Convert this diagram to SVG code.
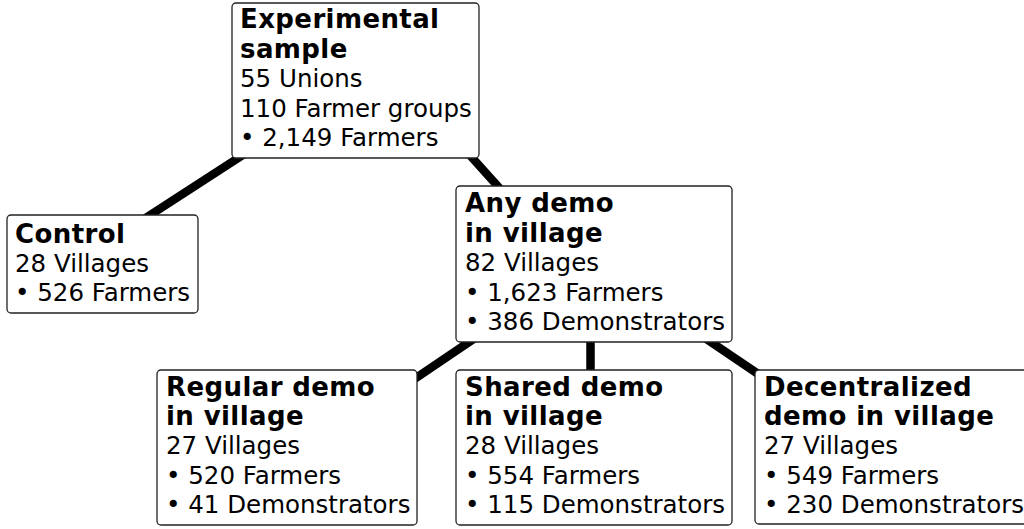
<svg xmlns="http://www.w3.org/2000/svg" width="1024" height="529" viewBox="0 0 1024 529">
  <style>
    .box { fill: #ffffff; stroke: #222222; stroke-width: 1.3; }
    .edge { stroke: #000000; stroke-width: 8.5; stroke-linecap: butt; fill: none; }
    text { font-family: "DejaVu Sans", "Liberation Sans", sans-serif; font-size: 24.5px; fill: #000000; }
    .title { font-weight: bold; font-size: 26px; letter-spacing: 0.4px; }
  </style>
  <rect width="1024" height="529" fill="#ffffff"/>

  <!-- tree edges, drawn beneath the boxes -->
  <g id="connectors">
    <line class="edge" x1="249" y1="151" x2="141" y2="221"/>
    <line class="edge" x1="467" y1="152" x2="503" y2="192"/>
    <line class="edge" x1="478" y1="336" x2="410" y2="382"/>
    <line class="edge" x1="590.5" y1="336" x2="590.5" y2="376"/>
    <line class="edge" x1="702" y1="336" x2="764" y2="378"/>
  </g>

  <g id="experimental">
    <rect class="box" x="232" y="3" width="247" height="155" rx="4"/>
    <text class="title" x="240" y="28">Experimental</text>
    <text class="title" x="240" y="57.5">sample</text>
    <text x="240" y="87">55 Unions</text>
    <text x="240" y="116.5">110 Farmer groups</text>
    <text x="240" y="146">• 2,149 Farmers</text>
  </g>

  <g id="control">
    <rect class="box" x="7" y="215" width="191" height="98" rx="4"/>
    <text class="title" x="15" y="242.5">Control</text>
    <text x="15" y="271.5">28 Villages</text>
    <text x="15" y="300.5">• 526 Farmers</text>
  </g>

  <g id="any-demo">
    <rect class="box" x="456" y="186" width="276" height="156" rx="4"/>
    <text class="title" x="465" y="212">Any demo</text>
    <text class="title" x="465" y="241.5">in village</text>
    <text x="465" y="271">82 Villages</text>
    <text x="465" y="300.5">• 1,623 Farmers</text>
    <text x="465" y="330">• 386 Demonstrators</text>
  </g>

  <g id="regular-demo">
    <rect class="box" x="157" y="370" width="260" height="155" rx="4"/>
    <text class="title" x="166" y="396">Regular demo</text>
    <text class="title" x="166" y="425">in village</text>
    <text x="166" y="454">27 Villages</text>
    <text x="166" y="483.5">• 520 Farmers</text>
    <text x="166" y="513">• 41 Demonstrators</text>
  </g>

  <g id="shared-demo">
    <rect class="box" x="456" y="370" width="276" height="155" rx="4"/>
    <text class="title" x="465" y="396">Shared demo</text>
    <text class="title" x="465" y="425">in village</text>
    <text x="465" y="454">28 Villages</text>
    <text x="465" y="483.5">• 554 Farmers</text>
    <text x="465" y="513">• 115 Demonstrators</text>
  </g>

  <g id="decentralized-demo">
    <rect class="box" x="755" y="370" width="280" height="154" rx="4"/>
    <text class="title" x="764" y="396">Decentralized</text>
    <text class="title" x="764" y="425">demo in village</text>
    <text x="764" y="454">27 Villages</text>
    <text x="764" y="483.5">• 549 Farmers</text>
    <text x="764" y="513">• 230 Demonstrators</text>
  </g>
</svg>
